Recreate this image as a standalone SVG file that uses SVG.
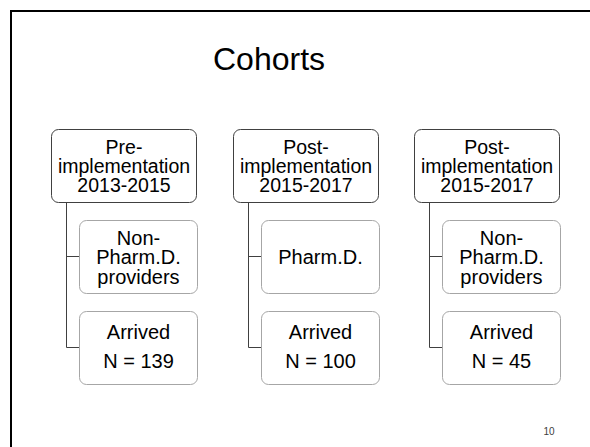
<svg xmlns="http://www.w3.org/2000/svg" width="590" height="447" viewBox="0 0 590 447">
  <style>
    .frame { fill: none; stroke: #000; stroke-width: 2; }
    .head { fill: #fff; stroke: #404040; stroke-width: 1; }
    .sub { fill: #fff; stroke: #a6a6a6; stroke-width: 1; }
    .link { fill: none; stroke: #404040; stroke-width: 1; }
    text { font-family: "Liberation Sans", Arial, sans-serif; fill: #000; text-anchor: middle; }
    .t-head { font-size: 19.5px; }
    .t-sub { font-size: 20px; }
  </style>

  <rect width="590" height="447" fill="#fff"/>
  <rect class="frame" x="11" y="11" width="620" height="470"/>

  <text x="269" y="70" style="font-size:32px">Cohorts</text>

  <!-- connectors -->
  <g id="connectors">
    <path class="link" d="M66.5 202 V347.5 H79 M66.5 256.5 H79"/>
    <path class="link" d="M248.5 202 V347.5 H261 M248.5 256.5 H261"/>
    <path class="link" d="M429.5 202 V347.5 H442 M429.5 256.5 H442"/>
  </g>

  <!-- column 1 -->
  <g id="pre-implementation">
    <rect class="head" x="51.5" y="129.5" width="145" height="73" rx="7"/>
    <text class="t-head" x="124" y="153.5">Pre-</text>
    <text class="t-head" x="124" y="172.5">implementation</text>
    <text class="t-head" x="124" y="191.5">2013-2015</text>
  </g>
  <g id="pre-non-pharmd">
    <rect class="sub" x="79.5" y="220.5" width="118" height="73" rx="7"/>
    <text class="t-sub" x="138.5" y="244.5">Non-</text>
    <text class="t-sub" x="138.5" y="264">Pharm.D.</text>
    <text class="t-sub" x="138.5" y="283.5">providers</text>
  </g>
  <g id="pre-arrived">
    <rect class="sub" x="79.5" y="311.5" width="118" height="73" rx="7"/>
    <text class="t-sub" x="138.5" y="339">Arrived</text>
    <text class="t-sub" x="138.5" y="368">N = 139</text>
  </g>

  <!-- column 2 -->
  <g id="post-implementation-a">
    <rect class="head" x="233.5" y="129.5" width="145" height="73" rx="7"/>
    <text class="t-head" x="306" y="153.5">Post-</text>
    <text class="t-head" x="306" y="172.5">implementation</text>
    <text class="t-head" x="306" y="191.5">2015-2017</text>
  </g>
  <g id="post-pharmd">
    <rect class="sub" x="261.5" y="220.5" width="118" height="73" rx="7"/>
    <text class="t-sub" x="320.5" y="264">Pharm.D.</text>
  </g>
  <g id="post-arrived-a">
    <rect class="sub" x="261.5" y="311.5" width="118" height="73" rx="7"/>
    <text class="t-sub" x="320.5" y="339">Arrived</text>
    <text class="t-sub" x="320.5" y="368">N = 100</text>
  </g>

  <!-- column 3 -->
  <g id="post-implementation-b">
    <rect class="head" x="414.5" y="129.5" width="145" height="73" rx="7"/>
    <text class="t-head" x="487" y="153.5">Post-</text>
    <text class="t-head" x="487" y="172.5">implementation</text>
    <text class="t-head" x="487" y="191.5">2015-2017</text>
  </g>
  <g id="post-non-pharmd">
    <rect class="sub" x="442.5" y="220.5" width="118" height="73" rx="7"/>
    <text class="t-sub" x="501.5" y="244.5">Non-</text>
    <text class="t-sub" x="501.5" y="264">Pharm.D.</text>
    <text class="t-sub" x="501.5" y="283.5">providers</text>
  </g>
  <g id="post-arrived-b">
    <rect class="sub" x="442.5" y="311.5" width="118" height="73" rx="7"/>
    <text class="t-sub" x="501.5" y="339">Arrived</text>
    <text class="t-sub" x="501.5" y="368">N = 45</text>
  </g>

  <text x="549" y="435" style="font-size:10px;fill:#404040">10</text>
</svg>
